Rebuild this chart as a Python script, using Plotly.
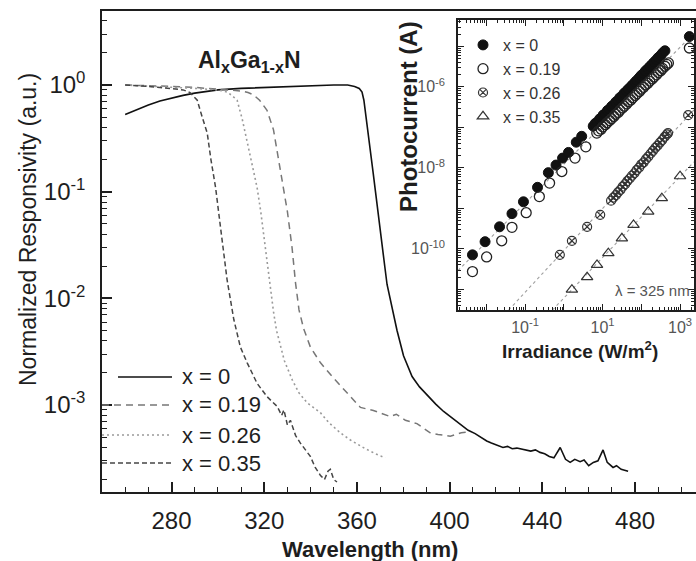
import plotly.graph_objects as go

# ---------------- main panel: normalized spectral responsivity ----------------
wl_x000 = [260, 265, 270, 275, 280, 285, 290, 295, 300, 310, 320, 330, 340, 350, 356, 359, 361,
           362.2, 363, 364, 365, 366, 367, 368, 369, 370, 371, 372, 373, 374.4, 377.3, 380.1,
           383.8, 387, 390.2, 394, 397.4, 401, 404.6, 408, 411, 413.2, 416, 418, 420.4, 423,
           425, 427, 429, 432, 435, 437, 439, 441, 443, 445, 447.7, 450, 452, 454, 456.3, 458,
           460, 462, 464, 466.2, 468, 470.5, 472, 474, 477]
r_x000 = [0.53, 0.59, 0.65, 0.71, 0.76, 0.80, 0.84, 0.87, 0.90, 0.93, 0.95, 0.97, 0.99, 1.0, 1.0,
          0.97, 0.93, 0.86, 0.72, 0.50, 0.34, 0.22, 0.15, 0.10, 0.069, 0.046, 0.031, 0.020,
          0.0135, 0.0097, 0.0050, 0.0029, 0.00185, 0.00148, 0.00124, 0.00102, 8.7e-4, 7.6e-4,
          6.7e-4, 5.8e-4, 5.4e-4, 5.0e-4, 4.6e-4, 4.4e-4, 4.2e-4, 4.0e-4, 4.1e-4, 3.9e-4,
          3.95e-4, 3.8e-4, 3.7e-4, 3.8e-4, 3.6e-4, 3.5e-4, 3.3e-4, 3.2e-4, 4.0e-4, 3.1e-4,
          2.9e-4, 3.1e-4, 2.95e-4, 3.05e-4, 2.7e-4, 2.9e-4, 3.0e-4, 3.8e-4, 2.9e-4, 2.6e-4,
          2.7e-4, 2.5e-4, 2.4e-4]

wl_x019 = [260, 270, 280, 290, 300, 305, 310, 313, 315.3, 318, 321.2, 324, 326.3, 328, 330, 332,
           333.5, 335, 337, 339.9, 344.2, 349.8, 355.7, 361.5, 367.1, 370, 374.4, 377, 380.9,
           385.9, 391.6, 395, 400.3, 405, 408.9]
r_x019 = [1.0, 0.99, 0.97, 0.95, 0.92, 0.90, 0.88, 0.85, 0.81, 0.72, 0.58, 0.38, 0.20, 0.12, 0.065,
          0.030, 0.014, 0.0078, 0.0052, 0.0035, 0.0025, 0.0018, 0.0013, 9.5e-4, 8.9e-4, 8.4e-4,
          7.8e-4, 8.2e-4, 7.2e-4, 6.7e-4, 5.5e-4, 5.3e-4, 5.1e-4, 5.5e-4, 5.6e-4]

wl_x026 = [260, 270, 280, 290, 300, 304, 306, 308.3, 310.5, 312.6, 314.8, 316.9, 318.5, 320.1,
           321.5, 322.7, 324, 325.3, 328.7, 332.2, 335, 338.5, 344.2, 348, 352.8, 357.2, 363.6,
           368, 372.2]
r_x026 = [1.0, 0.98, 0.96, 0.93, 0.90, 0.86, 0.80, 0.72, 0.48, 0.30, 0.18, 0.11, 0.065, 0.035,
          0.020, 0.012, 0.0075, 0.0050, 0.0026, 0.0017, 0.0013, 0.00105, 8.5e-4, 6.8e-4, 5.5e-4,
          4.7e-4, 3.9e-4, 3.5e-4, 3.2e-4]

wl_x035 = [260, 265, 270, 275, 280, 285, 288, 291.1, 293, 295.4, 297, 299, 301.1, 302.5, 304,
           305.5, 306.9, 309.7, 312.6, 316.9, 321.2, 325.6, 327.5, 328.5, 330, 331.3, 333.5,
           335.6, 337.5, 339.9, 342, 344.2, 346, 347.5, 348.5, 350, 351.4]
r_x035 = [1.0, 0.99, 0.97, 0.95, 0.93, 0.90, 0.85, 0.72, 0.52, 0.355, 0.20, 0.11, 0.047, 0.027,
          0.0148, 0.0095, 0.0063, 0.0035, 0.0025, 0.0016, 0.0012, 9.7e-4, 8.0e-4, 9.0e-4,
          6.5e-4, 7.2e-4, 5.2e-4, 4.4e-4, 3.9e-4, 3.3e-4, 2.6e-4, 2.2e-4, 2.0e-4, 2.4e-4,
          2.5e-4, 2.0e-4, 1.9e-4]

series_labels = ["x = 0", "x = 0.19", "x = 0.26", "x = 0.35"]

# ---------------- inset: photocurrent vs irradiance at 325 nm ----------------
irr_x000 = [0.0044, 0.0093, 0.022, 0.046, 0.091, 0.21, 0.40, 0.63, 0.93, 1.32, 2.1, 2.9,
            5.75, 6.5, 7.2, 8.4, 9.3, 10.4, 11.8, 13.4, 15.1, 17.1, 19.4, 22.0, 25.1, 28.0,
            32.6, 36.0, 41.9, 46.5, 53.9, 60.0, 69.5, 77.3, 89.0, 100, 116, 128, 148, 167,
            190, 215, 246, 274, 318, 353, 407, 1740]
pc_x000 = [7.1e-11, 1.5e-10, 3.5e-10, 7.4e-10, 1.45e-9, 3.3e-9, 7.6e-9, 1.17e-8, 1.74e-8,
           2.4e-8, 4.3e-8, 6.0e-8,
           1.07e-7, 1.25e-7, 1.33e-7, 1.60e-7, 1.72e-7, 2.02e-7, 2.17e-7, 2.60e-7, 2.80e-7,
           3.28e-7, 3.60e-7, 4.20e-7, 4.65e-7, 5.40e-7, 6.00e-7, 6.95e-7, 7.90e-7, 8.80e-7,
           1.01e-6, 1.13e-6, 1.31e-6, 1.46e-6, 1.69e-6, 1.92e-6, 2.17e-6, 2.47e-6, 2.80e-6,
           3.18e-6, 3.60e-6, 4.10e-6, 4.65e-6, 5.28e-6, 6.00e-6, 6.80e-6, 7.76e-6, 1.74e-5]

irr_x019 = [0.0044, 0.0102, 0.025, 0.046, 0.107, 0.234, 0.43, 0.89, 1.95, 3.7,
            7.1, 7.9, 9.2, 10.1, 11.8, 13.1, 15.2, 16.9, 19.6, 21.8, 25.2, 28.1, 32.5, 36.2,
            41.8, 46.6, 53.8, 60.1, 69.4, 77.4, 89.3, 99.5, 115, 129, 148, 165, 191, 213,
            246, 274, 317, 354, 408, 456, 501, 1740]
pc_x019 = [2.75e-11, 6.3e-11, 1.58e-10, 3.4e-10, 7.8e-10, 1.95e-9, 4.2e-9, 8.1e-9, 1.74e-8,
           3.3e-8,
           7.2e-8, 8.2e-8, 9.0e-8, 1.03e-7, 1.16e-7, 1.30e-7, 1.47e-7, 1.63e-7, 1.85e-7,
           2.10e-7, 2.33e-7, 2.65e-7, 3.00e-7, 3.33e-7, 3.78e-7, 4.29e-7, 4.76e-7, 5.40e-7,
           6.12e-7, 6.80e-7, 7.70e-7, 8.75e-7, 9.70e-7, 1.11e-6, 1.22e-6, 1.39e-6, 1.57e-6,
           1.75e-6, 1.98e-6, 2.25e-6, 2.50e-6, 2.84e-6, 3.22e-6, 3.57e-6, 3.89e-6, 9.1e-6]

irr_x026 = [0.79, 1.62, 4.0, 8.7, 16.6, 19.0, 22.1, 25.0, 28.9, 33.0, 38.2, 43.5, 50.3, 57.2,
            66.4, 75.6, 87.4, 99.6, 115, 132, 151, 175, 199, 230, 262, 303, 346, 399, 456,
            490, 1620]
pc_x026 = [7.1e-11, 1.58e-10, 3.5e-10, 6.9e-10, 1.55e-9, 1.84e-9, 2.11e-9, 2.48e-9, 2.85e-9,
           3.42e-9, 3.95e-9, 4.72e-9, 5.45e-9, 6.38e-9, 7.35e-9, 8.80e-9, 1.01e-8, 1.21e-8,
           1.37e-8, 1.64e-8, 1.89e-8, 2.26e-8, 2.61e-8, 3.12e-8, 3.52e-8, 4.20e-8, 4.86e-8,
           5.80e-8, 6.70e-8, 7.2e-8, 2.0e-7]

irr_x035 = [1.62, 4.0, 7.2, 14.1, 31.6, 63, 151, 339, 1000]
pc_x035 = [9.8e-12, 2.0e-11, 4.0e-11, 7.8e-11, 1.82e-10, 3.9e-10, 8.3e-10, 1.78e-9, 6.2e-9]

# linear (slope ~1) guide lines through the data sets
fit_irr_a = [1.86e-3, 2290]
fit_pc_a = [2.9e-11, 2.1e-5]
fit_irr_b = [0.038, 2290]
fit_pc_b = [3.1e-12, 2.7e-7]
fit_irr_c = [0.51, 2290]
fit_pc_c = [3.1e-12, 1.4e-8]

# ---------------- geometry helpers (pixel -> paper) ----------------
FIG_W, FIG_H = 696, 561
L, R, T, B = 102, 696, 11, 492
PW, PH = R - L, B - T


def fx(px):
    return (px - L) / PW


def fy(py):
    return (B - py) / PH


FONT = "Liberation Sans, Arial, sans-serif"
INK = "#1e1e1e"

line_styles = [
    dict(color="#111111", width=1.6, dash="solid"),
    dict(color="#777777", width=1.5, dash="7px,5px"),
    dict(color="#9a9a9a", width=1.6, dash="2px,3px"),
    dict(color="#454545", width=1.5, dash="5px,3px"),
]

fig = go.Figure()

main_sets = [(wl_x000, r_x000), (wl_x019, r_x019), (wl_x026, r_x026), (wl_x035, r_x035)]
for (wl, r), st, name in zip(main_sets, line_styles, series_labels):
    fig.add_trace(go.Scatter(x=wl, y=r, mode="lines", line=st, name=name,
                             showlegend=False, xaxis="x", yaxis="y"))

# inset guide lines
for fi, fp in [(fit_irr_a, fit_pc_a), (fit_irr_b, fit_pc_b), (fit_irr_c, fit_pc_c)]:
    fig.add_trace(go.Scatter(x=fi, y=fp, mode="lines",
                             line=dict(color="#a0a0a0", width=1.1, dash="dot"),
                             showlegend=False, hoverinfo="skip", xaxis="x2", yaxis="y2"))

marker_styles = [
    dict(symbol="circle", size=10, color="#111111", line=dict(color="#111111", width=1)),
    dict(symbol="circle-open", size=10, color="#222222", line=dict(width=1.3)),
    dict(symbol="circle-x-open", size=9, color="#333333", line=dict(width=1.2)),
    dict(symbol="triangle-up-open", size=10, color="#333333", line=dict(width=1.2)),
]
inset_sets = [(irr_x000, pc_x000), (irr_x019, pc_x019), (irr_x026, pc_x026), (irr_x035, pc_x035)]
for (xi, yi), mk, name in zip(inset_sets, marker_styles, series_labels):
    fig.add_trace(go.Scatter(x=xi, y=yi, mode="markers", marker=mk, name=name,
                             legend="legend2", xaxis="x2", yaxis="y2"))

# ---------------- axes ----------------
main_y_major = [1e-3, 1e-2, 1e-1, 1]
main_y_text = ["10<sup>-3</sup>", "10<sup>-2</sup>", "10<sup>-1</sup>", "10<sup>0</sup>"]
main_y_minor = [k * 10.0 ** n for n in range(-4, 1) for k in range(2, 10)]

inset_x_major = [1e-3, 1e-2, 1e-1, 1, 10, 100, 1000]
inset_x_text = ["", "", "10<sup>-1</sup>", "", "10<sup>1</sup>", "", "10<sup>3</sup>"]
inset_x_minor = [k * 10.0 ** n for n in range(-3, 4) for k in range(2, 10)]
inset_y_major = [10.0 ** n for n in range(-12, -3)]
inset_y_text = ["", "", "10<sup>-10</sup>", "", "10<sup>-8</sup>", "", "10<sup>-6</sup>", "", ""]
inset_y_minor = [k * 10.0 ** n for n in range(-12, -3) for k in range(2, 10)]

axis_common = dict(showgrid=False, zeroline=False, showline=True, linecolor=INK,
                   linewidth=1.5, ticks="inside", tickcolor=INK)

fig.update_layout(
    width=FIG_W, height=FIG_H,
    margin=dict(l=L, r=FIG_W - R, t=T, b=FIG_H - B, pad=0),
    paper_bgcolor="white", plot_bgcolor="white",
    font=dict(family=FONT, color=INK),
    xaxis=dict(**axis_common, domain=[0, 1], range=[250, 506.3], mirror=True,
               tickmode="linear", tick0=280, dtick=40, ticklen=10, tickwidth=1.5,
               tickfont=dict(size=24, family=FONT, color=INK), ticklabelstandoff=6,
               minor=dict(ticks="inside", tick0=250, dtick=10, ticklen=5, tickwidth=1.3,
                          tickcolor=INK)),
    yaxis=dict(**axis_common, type="log", range=[-3.815, 0.694], mirror=False,
               tickmode="array", tickvals=main_y_major, ticktext=main_y_text,
               ticklen=10, tickwidth=1.5, ticklabelstandoff=10,
               tickfont=dict(size=24, family=FONT, color=INK),
               minor=dict(ticks="inside", tickmode="array", tickvals=main_y_minor,
                          ticklen=5, tickwidth=1.3, tickcolor=INK)),
    xaxis2=dict(**axis_common, type="log", range=[-2.73, 3.36], anchor="y2",
                domain=[fx(458), fx(694)], mirror="allticks",
                tickmode="array", tickvals=inset_x_major, ticktext=inset_x_text,
                ticklen=6, tickwidth=1.2, ticklabelstandoff=2,
                tickfont=dict(size=16, family=FONT, color="#555555"),
                minor=dict(ticks="inside", tickmode="array", tickvals=inset_x_minor,
                           ticklen=3, tickwidth=1, tickcolor=INK)),
    yaxis2=dict(**axis_common, type="log", range=[-11.51, -4.35], anchor="x2",
                domain=[fy(310), fy(20)], mirror="allticks",
                tickmode="array", tickvals=inset_y_major, ticktext=inset_y_text,
                ticklen=6, tickwidth=1.2, ticklabelstandoff=8,
                tickfont=dict(size=16, family=FONT, color="#555555"),
                minor=dict(ticks="inside", tickmode="array", tickvals=inset_y_minor,
                           ticklen=3, tickwidth=1, tickcolor=INK)),
    legend2=dict(x=fx(463), y=fy(28), xanchor="left", yanchor="top",
                 bgcolor="rgba(0,0,0,0)", font=dict(size=16, family=FONT, color="#333333"),
                 tracegroupgap=0, itemsizing="trace"),
    showlegend=True,
)

# ---------------- main-panel key ----------------
key_rows = [377, 405, 435, 463]
key_x0 = [118, 102, 102, 102]
for row, x0, st, name in zip(key_rows, key_x0, line_styles, series_labels):
    fig.add_shape(type="line", xref="paper", yref="paper",
                  x0=fx(x0), x1=fx(172), y0=fy(row), y1=fy(row), line=st)
    fig.add_annotation(text=name, xref="paper", yref="paper", x=fx(180), y=fy(row),
                       xanchor="left", yanchor="middle", showarrow=False,
                       font=dict(size=22, family=FONT, color=INK))

# ---------------- titles and labels ----------------
texts = [
    dict(text="Normalized Responsivity (a.u.)", x=fx(28), y=fy(230), textangle=-90,
         font=dict(size=23, family=FONT, color=INK)),
    dict(text="<b>Wavelength (nm)</b>", x=fx(370), y=fy(549),
         font=dict(size=22, family=FONT, color=INK)),
    dict(text="<b>Al<sub>x</sub>Ga<sub>1-x</sub>N</b>", x=fx(249), y=fy(61),
         font=dict(size=23, family=FONT, color=INK)),
    dict(text="<b>Irradiance (W/m<sup>2</sup>)</b>", x=fx(580), y=fy(350),
         font=dict(size=19, family=FONT, color=INK)),
    dict(text="<b>Photocurrent (A)</b>", x=fx(408), y=fy(117), textangle=-90,
         font=dict(size=24, family=FONT, color=INK)),
]
for t in texts:
    fig.add_annotation(xref="paper", yref="paper", showarrow=False,
                       xanchor="center", yanchor="middle", **t)

fig.add_annotation(text="λ = 325 nm", xref="paper", yref="paper", x=fx(692), y=fy(290),
                   xanchor="right", yanchor="middle", showarrow=False,
                   font=dict(size=15, family=FONT, color="#555555"))

fig.write_html("out.html")
